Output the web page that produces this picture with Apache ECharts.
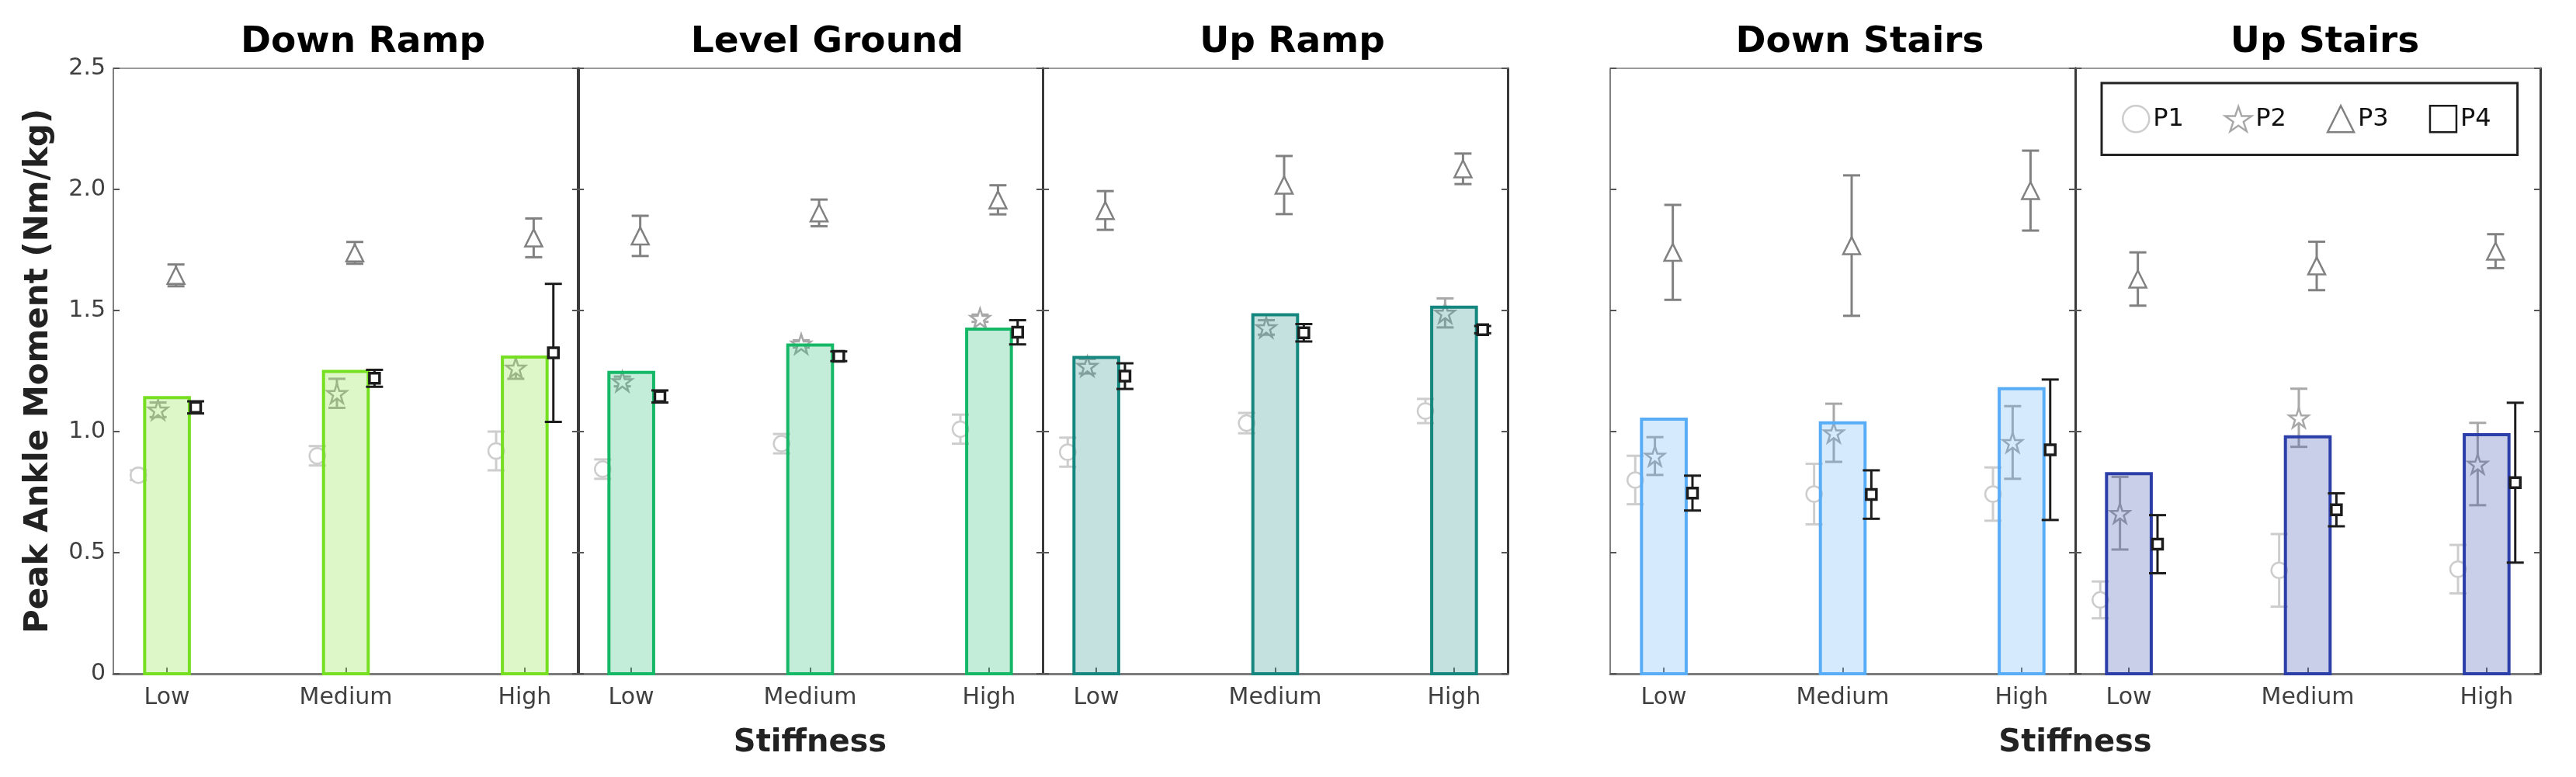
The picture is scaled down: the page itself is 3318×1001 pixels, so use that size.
<!DOCTYPE html>
<html><head><meta charset="utf-8">
<script src="https://cdn.jsdelivr.net/npm/echarts@6/dist/echarts.min.js"></script>
<style>html,body{margin:0;padding:0;background:#fff;}#c{width:3318px;height:1001px;}</style>
</head><body><div id="c"></div>
<script>
// ---------------- DATA ----------------
const categories = ['Low', 'Medium', 'High'];
const conditions = ['Down Ramp', 'Level Ground', 'Up Ramp', 'Down Stairs', 'Up Stairs'];
const participants = ['P1', 'P2', 'P3', 'P4'];
const yTickLabels = ['0', '0.5', '1.0', '1.5', '2.0', '2.5'];
const xTitle = 'Stiffness';
const yTitle = 'Peak Ankle Moment (Nm/kg)';

// group mean (bars): rows = conditions, cols = Low/Medium/High
const barMean = [
  [1.14, 1.248, 1.308],
  [1.244, 1.357, 1.423],
  [1.306, 1.482, 1.514],
  [1.051, 1.036, 1.177],
  [0.826, 0.978, 0.987]
];
const p1Mean = [
  [0.82, 0.90, 0.92],
  [0.845, 0.95, 1.01],
  [0.915, 1.035, 1.085],
  [0.80, 0.742, 0.742],
  [0.305, 0.427, 0.432]
];
const p1Sd = [
  [0.02, 0.04, 0.08],
  [0.04, 0.04, 0.06],
  [0.06, 0.042, 0.05],
  [0.10, 0.125, 0.11],
  [0.076, 0.15, 0.10]
];
const p2Mean = [
  [1.09, 1.158, 1.263],
  [1.207, 1.362, 1.468],
  [1.27, 1.43, 1.49],
  [0.899, 0.995, 0.955],
  [0.663, 1.057, 0.866]
];
const p2Sd = [
  [0.03, 0.06, 0.045],
  [0.02, 0.015, 0.015],
  [0.03, 0.03, 0.06],
  [0.078, 0.12, 0.15],
  [0.15, 0.12, 0.17]
];
const p3Mean = [
  [1.645, 1.738, 1.80],
  [1.808, 1.903, 1.957],
  [1.913, 2.018, 2.085],
  [1.74, 1.768, 1.995],
  [1.63, 1.684, 1.745]
];
const p3Sd = [
  [0.045, 0.045, 0.08],
  [0.083, 0.055, 0.06],
  [0.08, 0.12, 0.063],
  [0.196, 0.29, 0.165],
  [0.11, 0.10, 0.07]
];
const p4Mean = [
  [1.10, 1.22, 1.325],
  [1.145, 1.311, 1.41],
  [1.229, 1.408, 1.421],
  [0.746, 0.74, 0.925],
  [0.535, 0.677, 0.789]
];
const p4Sd = [
  [0.025, 0.035, 0.285],
  [0.025, 0.02, 0.05],
  [0.053, 0.036, 0.015],
  [0.072, 0.10, 0.29],
  [0.12, 0.068, 0.33]
];
const pMeans = [p1Mean, p2Mean, p3Mean, p4Mean];
const pSds = [p1Sd, p2Sd, p3Sd, p4Sd];

// ---------------- LAYOUT / STYLE ----------------
const FONT = 'DejaVu Sans';
const GRID_LEFT = [146, 744, 1343, 2074, 2673];
const GRID_W = 599, GRID_TOP = 88, GRID_H = 780;
const X_MIN = 0.7, X_MAX = 3.3;
const BAR_HALF = 0.125;
const OFFSETS = [-0.16, -0.05, 0.05, 0.16];
const EDGE = ['#76df22', '#14b866', '#15877f', '#59adf6', '#2c3fa8'];
const FILL_ALPHA = 0.25;
const P_COLORS = ['#cdcdcd', '#a8a8a8', '#818181', '#1c1c1c'];
const STAR = 'path://M50,2 L61.8,36.4 L98,36.4 L68.7,57.8 L79.9,92 L50,71 L20.1,92 L31.3,57.8 L2,36.4 L38.2,36.4 Z';
const P_SYMBOLS = ['circle', STAR, 'triangle', 'rect'];
const P_SIZES = [20, 25, 22, 13];
const CAP = 11;

function hexToRgba(h, a) {
  const n = parseInt(h.slice(1), 16);
  return 'rgba(' + ((n >> 16) & 255) + ',' + ((n >> 8) & 255) + ',' + (n & 255) + ',' + a + ')';
}

const grids = [], xAxes = [], yAxes = [], series = [];
conditions.forEach((cond, i) => {
  grids.push({ left: GRID_LEFT[i], top: GRID_TOP, width: GRID_W, height: GRID_H, containLabel: false });
  xAxes.push({
    gridIndex: i, type: 'value', min: X_MIN, max: X_MAX, position: 'bottom',
    axisLine: { show: true, onZero: false, lineStyle: { color: '#7a7a7a', width: 3 } },
    axisTick: { show: true, inside: true, length: 8, customValues: [1, 2, 3], lineStyle: { color: '#666', width: 2 } },
    axisLabel: { show: true, customValues: [1, 2, 3], formatter: v => categories[Math.round(v) - 1],
      fontFamily: FONT, fontSize: 30, color: '#404040', margin: 16 },
    splitLine: { show: false }
  });
  xAxes.push({
    gridIndex: i, type: 'value', min: X_MIN, max: X_MAX, position: 'top',
    axisLine: { show: true, onZero: false, lineStyle: { color: '#9a9a9a', width: 2 } },
    axisTick: { show: false }, axisLabel: { show: false }, splitLine: { show: false }
  });
  const leftLight = (i === 0 || i === 3);
  yAxes.push({
    gridIndex: i, type: 'value', min: 0, max: 2.5, interval: 0.5, position: 'left',
    axisLine: { show: true, onZero: false, lineStyle: { color: leftLight ? '#808080' : '#3a3a3a', width: leftLight ? 2 : 3 } },
    axisTick: { show: true, inside: true, length: 8, lineStyle: { color: '#555', width: 2 } },
    axisLabel: { show: i === 0, formatter: v => yTickLabels[Math.round(v / 0.5)], fontFamily: FONT, fontSize: 30, color: '#404040', margin: 10 },
    splitLine: { show: false }
  });
  yAxes.push({
    gridIndex: i, type: 'value', min: 0, max: 2.5, interval: 0.5, position: 'right',
    axisLine: { show: true, onZero: false, lineStyle: { color: '#3a3a3a', width: 3 } },
    axisTick: { show: true, inside: true, length: 8, lineStyle: { color: '#555', width: 2 } },
    axisLabel: { show: false }, splitLine: { show: false }
  });

  // participant error bars + markers
  participants.forEach((p, k) => {
    const errData = categories.map((c, j) => [j + 1 + OFFSETS[k], pMeans[k][i][j] - pSds[k][i][j], pMeans[k][i][j] + pSds[k][i][j]]);
    const col = P_COLORS[k];
    const zBase = k === 3 ? 20 : 2 + k;
    series.push({
      type: 'custom', name: p + ' sd', xAxisIndex: 2 * i, yAxisIndex: 2 * i, z: zBase,
      encode: { x: 0, y: [1, 2] }, silent: true,
      data: errData,
      renderItem: function (params, api) {
        const x = api.value(0), lo = api.value(1), hi = api.value(2);
        const a = api.coord([x, hi]), b = api.coord([x, lo]);
        const st = { stroke: col, lineWidth: 3, fill: null };
        return { type: 'group', children: [
          { type: 'line', shape: { x1: a[0], y1: a[1], x2: b[0], y2: b[1] }, style: st },
          { type: 'line', shape: { x1: a[0] - CAP, y1: a[1], x2: a[0] + CAP, y2: a[1] }, style: st },
          { type: 'line', shape: { x1: b[0] - CAP, y1: b[1], x2: b[0] + CAP, y2: b[1] }, style: st }
        ] };
      }
    });
    series.push({
      type: 'scatter', name: p, xAxisIndex: 2 * i, yAxisIndex: 2 * i, z: zBase + 1,
      symbol: P_SYMBOLS[k], symbolSize: P_SIZES[k], silent: true,
      itemStyle: { color: '#ffffff', borderColor: col, borderWidth: k === 3 ? 3.5 : 2.5, opacity: 1 },
      data: categories.map((c, j) => [j + 1 + OFFSETS[k], pMeans[k][i][j]])
    });
  });

  // group mean bars
  const edge = EDGE[i];
  series.push({
    type: 'custom', name: cond + ' mean', xAxisIndex: 2 * i, yAxisIndex: 2 * i, z: 10, silent: true,
    encode: { x: 0, y: 1 },
    data: categories.map((c, j) => [j + 1, barMean[i][j]]),
    renderItem: function (params, api) {
      const x = api.value(0), v = api.value(1);
      const p0 = api.coord([x - BAR_HALF, v]), p1 = api.coord([x + BAR_HALF, 0]);
      return { type: 'rect', shape: { x: p0[0], y: p0[1], width: p1[0] - p0[0], height: p1[1] - p0[1] },
        style: { fill: hexToRgba(edge, FILL_ALPHA), stroke: edge, lineWidth: 4 } };
    }
  });
});

const graphics = [];
conditions.forEach((cond, i) => {
  graphics.push({ type: 'text', x: GRID_LEFT[i] + GRID_W / 2 + 22, y: 55,
    style: { text: cond, fontFamily: FONT, fontWeight: 'bold', fontSize: 47, fill: '#000', align: 'center', verticalAlign: 'middle' } });
});
graphics.push({ type: 'text', x: GRID_LEFT[1] + GRID_W / 2, y: 958,
  style: { text: xTitle, fontFamily: FONT, fontWeight: 'bold', fontSize: 40, fill: '#222', align: 'center', verticalAlign: 'middle' } });
graphics.push({ type: 'text', x: GRID_LEFT[4], y: 958,
  style: { text: xTitle, fontFamily: FONT, fontWeight: 'bold', fontSize: 40, fill: '#222', align: 'center', verticalAlign: 'middle' } });
graphics.push({ type: 'text', x: 50, y: GRID_TOP + GRID_H / 2, rotation: Math.PI / 2,
  style: { text: yTitle, fontFamily: FONT, fontWeight: 'bold', fontSize: 42, fill: '#222', align: 'center', verticalAlign: 'middle' } });

const legendData = participants.map((p, k) => ({
  name: p, icon: P_SYMBOLS[k],
  itemStyle: { color: '#ffffff', borderColor: P_COLORS[k], borderWidth: 2.5 }
}));

const chart = echarts.init(document.getElementById('c'), null, { renderer: 'canvas', width: 3318, height: 1001 });
chart.setOption({
  animation: false,
  backgroundColor: '#ffffff',
  grid: grids, xAxis: xAxes, yAxis: yAxes, series: series,
  legend: {
    data: legendData, left: 2707, top: 107, orient: 'horizontal',
    borderColor: '#222', borderWidth: 3, borderRadius: 0,
    padding: [28, 34, 28, 26], itemGap: 52, itemWidth: 34, itemHeight: 34,
    textStyle: { fontFamily: FONT, fontSize: 32, color: '#111' },
    selectedMode: false
  },
  graphic: graphics
});
</script></body></html>
